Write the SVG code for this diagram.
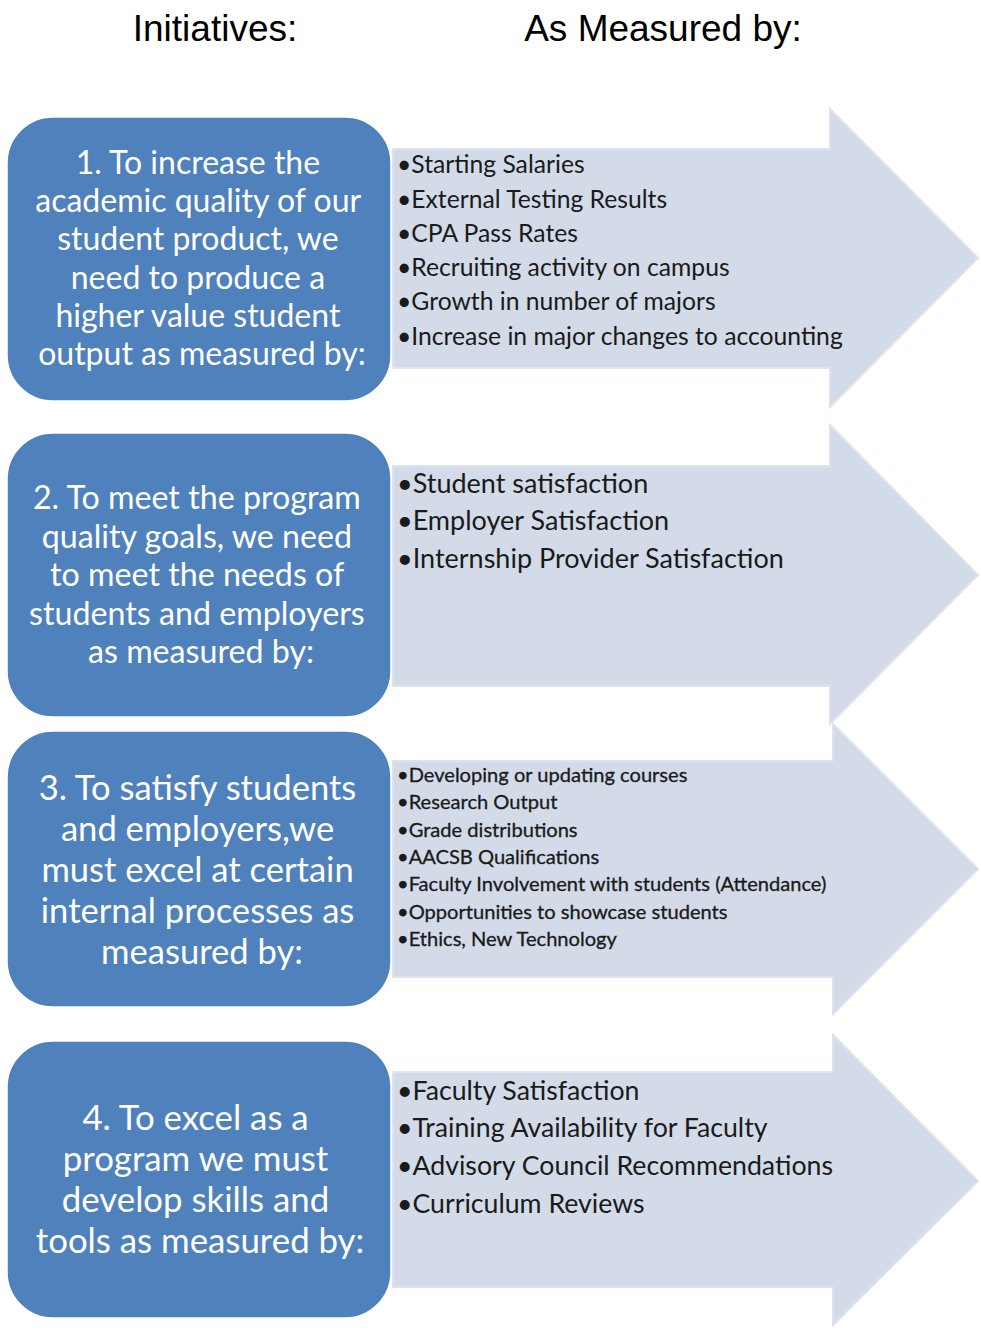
<svg xmlns="http://www.w3.org/2000/svg" width="981" height="1332" viewBox="0 0 981 1332">
  <style>
    .head { font-family: "Liberation Sans", Arial, sans-serif; font-size: 37px; fill: #000; text-anchor: middle; }
    .box { fill: #4F81BD; stroke: #ffffff; stroke-width: 1.5; }
    .arrow { fill: #D3DAE8; stroke: #DCE2EE; stroke-width: 2; }
    .init { font-family: Lato, "Open Sans", sans-serif; fill: #ffffff; text-anchor: middle; }
    .item { font-family: Lato, "Open Sans", sans-serif; fill: #1a1a1a; }
    .dense { stroke: #1a1a1a; stroke-width: 0.3; }
  </style>

  <rect width="981" height="1332" fill="#ffffff"/>

  <!-- column headings -->
  <text class="head" x="215" y="41">Initiatives:</text>
  <text class="head" x="663" y="41">As Measured by:</text>

  <!-- measure arrows -->
  <g id="connectors">
    <path class="arrow" d="M393 149 H830 V109 L978 258 L830 407 V368 H393 Z"/>
    <path class="arrow" d="M393 466 H830 V425 L978 575 L830 724 V686 H393 Z"/>
    <path class="arrow" d="M393 761 H833 V724 L978 869 L833 1014 V977 H393 Z"/>
    <path class="arrow" d="M393 1072 H833 V1035 L978 1181 L833 1325 V1287 H393 Z"/>
  </g>

  <!-- initiative 1 -->
  <g id="initiative-1">
    <rect class="box" x="7" y="117" width="384" height="284" rx="46"/>
    <text class="init" font-size="32">
      <tspan x="202" y="173.5">1. To increase the</tspan>
      <tspan x="202" y="211.5">academic quality of our</tspan>
      <tspan x="202" y="249.5">student product, we</tspan>
      <tspan x="202" y="288.5">need to produce a</tspan>
      <tspan x="202" y="326.5">higher value student</tspan>
      <tspan x="202" y="364.5">output as measured by:</tspan>
    </text>
  </g>
  <g id="measures-1">
    <text class="item" font-size="24.7">
      <tspan x="397" y="173">•Starting Salaries</tspan>
      <tspan x="397" y="208">•External Testing Results</tspan>
      <tspan x="397" y="242">•CPA Pass Rates</tspan>
      <tspan x="397" y="276">•Recruiting activity on campus</tspan>
      <tspan x="397" y="310">•Growth in number of majors</tspan>
      <tspan x="397" y="345">•Increase in major changes to accounting</tspan>
    </text>
  </g>

  <!-- initiative 2 -->
  <g id="initiative-2">
    <rect class="box" x="7" y="433" width="384" height="284" rx="46"/>
    <text class="init" font-size="32.2">
      <tspan x="201" y="508.6">2. To meet the program</tspan>
      <tspan x="201" y="547.6">quality goals, we need</tspan>
      <tspan x="201" y="585.6">to meet the needs of</tspan>
      <tspan x="201" y="624.6">students and employers</tspan>
      <tspan x="201" y="662.6">as measured by:</tspan>
    </text>
  </g>
  <g id="measures-2">
    <text class="item" font-size="27">
      <tspan x="397" y="493">•Student satisfaction</tspan>
      <tspan x="397" y="530">•Employer Satisfaction</tspan>
      <tspan x="397" y="568">•Internship Provider Satisfaction</tspan>
    </text>
  </g>

  <!-- initiative 3 -->
  <g id="initiative-3">
    <rect class="box" x="7" y="731" width="384" height="276" rx="46"/>
    <text class="init" font-size="34.6">
      <tspan x="202" y="799.5">3. To satisfy students</tspan>
      <tspan x="202" y="840.5">and employers,we</tspan>
      <tspan x="202" y="881.5">must excel at certain</tspan>
      <tspan x="202" y="922.5">internal processes as</tspan>
      <tspan x="202" y="963.5">measured by:</tspan>
    </text>
  </g>
  <g id="measures-3">
    <text class="item dense" font-size="20.1">
      <tspan x="397" y="781.6">•Developing or updating courses</tspan>
      <tspan x="397" y="808.6">•Research Output</tspan>
      <tspan x="397" y="836.6">•Grade distributions</tspan>
      <tspan x="397" y="863.6">•AACSB Qualifications</tspan>
      <tspan x="397" y="890.6">•Faculty Involvement with students (Attendance)</tspan>
      <tspan x="397" y="918.6">•Opportunities to showcase students</tspan>
      <tspan x="397" y="945.6">•Ethics, New Technology</tspan>
    </text>
  </g>

  <!-- initiative 4 -->
  <g id="initiative-4">
    <rect class="box" x="7" y="1041" width="384" height="277" rx="46"/>
    <text class="init" font-size="34.8">
      <tspan x="200" y="1129.5">4. To excel as a</tspan>
      <tspan x="200" y="1170.5">program we must</tspan>
      <tspan x="200" y="1211.5">develop skills and</tspan>
      <tspan x="200" y="1252.5">tools as measured by:</tspan>
    </text>
  </g>
  <g id="measures-4">
    <text class="item" font-size="26.7">
      <tspan x="397" y="1100">•Faculty Satisfaction</tspan>
      <tspan x="397" y="1137">•Training Availability for Faculty</tspan>
      <tspan x="397" y="1175">•Advisory Council Recommendations</tspan>
      <tspan x="397" y="1213">•Curriculum Reviews</tspan>
    </text>
  </g>
</svg>
